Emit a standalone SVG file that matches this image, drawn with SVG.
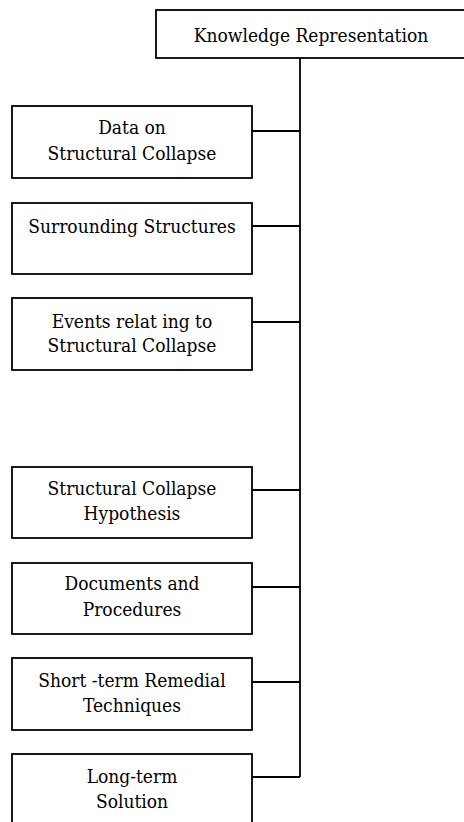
<svg xmlns="http://www.w3.org/2000/svg" width="464" height="822" viewBox="0 0 464 822">
<style>
.box{fill:#fff;stroke:#000;stroke-width:1.8}
.ln{fill:none;stroke:#000;stroke-width:1.8}
.t{font-family:'DejaVu Serif Condensed','DejaVu Serif',serif;font-stretch:semi-condensed;font-size:19px;fill:#000;text-anchor:middle}
</style>
<rect width="464" height="822" fill="#fff"/>
<g id="connectors">
<path class="ln" d="M300 58V777"/>
<path class="ln" d="M252 131H300M252 226H300M252 322H300M252 490H300M252 587H300M252 682H300M252 777H300"/>
</g>
<g id="root"><rect class="box" x="156" y="10" width="312" height="48"/><text class="t" x="311" y="42">Knowledge Representation</text></g>
<g id="n1"><rect class="box" x="12" y="106" width="240" height="72"/><text class="t" x="132" y="134">Data on</text><text class="t" x="132" y="160">Structural Collapse</text></g>
<g id="n2"><rect class="box" x="12" y="203" width="240" height="71"/><text class="t" x="132" y="233">Surrounding Structures</text></g>
<g id="n3"><rect class="box" x="12" y="298" width="240" height="72"/><text class="t" x="132" y="328">Events relat ing to</text><text class="t" x="132" y="352">Structural Collapse</text></g>
<g id="n4"><rect class="box" x="12" y="467" width="240" height="71"/><text class="t" x="132" y="495">Structural Collapse</text><text class="t" x="132" y="520">Hypothesis</text></g>
<g id="n5"><rect class="box" x="12" y="563" width="240" height="71"/><text class="t" x="132" y="590">Documents and</text><text class="t" x="132" y="616">Procedures</text></g>
<g id="n6"><rect class="box" x="12" y="658" width="240" height="72"/><text class="t" x="132" y="687">Short -term Remedial</text><text class="t" x="132" y="712">Techniques</text></g>
<g id="n7"><rect class="box" x="12" y="754" width="240" height="80"/><text class="t" x="132" y="783">Long-term</text><text class="t" x="132" y="808">Solution</text></g>
</svg>
